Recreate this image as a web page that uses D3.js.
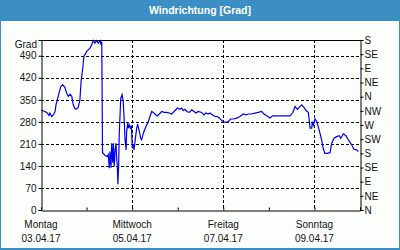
<!DOCTYPE html>
<html>
<head>
<meta charset="utf-8">
<script src="https://cdnjs.cloudflare.com/ajax/libs/d3/7.8.5/d3.min.js"></script>
<style>
  html, body { margin: 0; padding: 0; background: #fff; }
  svg { display: block; }
  text { font-family: "Liberation Sans", Arial, sans-serif; }
</style>
</head>
<body>
<div id="chart"></div>
<script>
// Windrichtung, Stunden seit Montag 03.04.17 00:00
var hours = [0, 2.1, 3.3, 4.2, 4.7, 5.6, 6.5, 7.4, 7.9, 8.6, 9.5, 10.4, 11.4, 12.6, 13.5, 14.4, 15.3, 16.2, 17, 17.9,
  18.8, 19.6, 20.5, 21.1, 22, 22.6, 24.1, 25.8, 26.7, 27.5, 28.4, 29.3, 30.2, 31.1, 31.6, 32, 32.4, 32.8, 33.7, 34.9,
  35.4, 36, 36.3, 36.9, 37.2, 37.8, 38.1, 38.6, 39, 39.5, 39.9, 40.2, 40.5, 40.9, 41.2, 42, 42.7, 43.3, 43.9, 44.2,
  44.8, 45.1, 45.7, 46, 46.5, 47, 47.6, 48.1, 48.6, 49, 49.5, 50.4, 50.9, 51.8, 52.5, 53, 53.9, 55.3, 56.5, 57.4,
  58.3, 59.1, 60, 61.2, 62.3, 63.6, 64.8, 66.2, 67.6, 68.8, 69.7, 70.6, 71.8, 73.2, 74.1, 74.9, 75.8, 76.7, 78.1, 79.4,
  80.6, 81.6, 82.8, 84.6, 85.8, 86.9, 88.1, 89, 90.4, 91.6, 92.8, 93.9, 95.2, 96.4, 97.8, 98.6, 99.9, 101.3, 103.1, 104.8,
  106.5, 108, 109.2, 111, 112.7, 114.4, 116.2, 117.4, 118.9, 120.6, 122, 124.1, 125.9, 127.6, 129.4, 131.1, 132.5, 133.8, 135, 136,
  137.3, 138.5, 139.6, 140.8, 141.7, 142.6, 142.9, 143.4, 144.3, 145.2, 146, 146.9, 147.8, 148.6, 149.5, 150.8, 152.2, 153.1, 154.3, 155.7,
  157.1, 157.9, 159.2, 160.6, 161.8, 163.6, 164.8, 166.2, 167.1];
var grad = [317, 313, 308, 300, 308, 297, 302, 313, 334, 350, 371, 392, 398, 389, 371, 361, 368, 361, 334, 321,
  321, 326, 350, 408, 451, 488, 504, 514, 525, 538, 530, 538, 530, 538, 525, 535, 181, 180, 173, 170,
  176, 133, 186, 134, 212, 150, 212, 138, 190, 212, 159, 143, 82, 143, 239, 355, 366, 345, 276, 228,
  191, 249, 276, 260, 270, 260, 268, 196, 207, 191, 217, 260, 273, 249, 228, 223, 244, 265, 281, 297,
  313, 310, 305, 299, 305, 313, 310, 310, 308, 305, 310, 316, 324, 320, 324, 316, 320, 313, 310, 318,
  313, 308, 313, 310, 302, 308, 305, 308, 302, 297, 297, 292, 284, 279, 279, 281, 289, 289, 292, 297,
  305, 302, 305, 305, 308, 310, 313, 305, 299, 292, 299, 299, 299, 299, 299, 299, 308, 329, 320, 326,
  334, 326, 316, 310, 260, 260, 281, 270, 289, 281, 265, 244, 223, 196, 180, 180, 182, 212, 228, 233,
  236, 228, 242, 236, 223, 207, 193, 191, 186];

var dayNames = ['Montag', 'Mittwoch', 'Freitag', 'Sonntag'];
var dayDates = ['03.04.17', '05.04.17', '07.04.17', '09.04.17'];
var gradTicks = [0, 70, 140, 210, 280, 350, 420, 490];
var compassLabels = ['N', 'NE', 'E', 'SE', 'S', 'SW', 'W', 'NW', 'N', 'NE', 'E', 'SE', 'S'];

(function() {
  var W = 400, H = 250;
  var pLeft = 41, pRight = 360, pTop = 40, pBottom = 210;
  var t0 = new Date(2017, 3, 3), t1 = new Date(2017, 3, 10);
  var parseDay = d3.timeParse('%d.%m.%y');
  var font = '"Liberation Sans", Arial, sans-serif';

  var x = d3.scaleTime().domain([t0, t1]).range([pLeft, pRight]);
  var y = d3.scaleLinear().domain([0, 540]).range([pBottom, pTop]);

  var svg = d3.select('#chart').append('svg')
    .attr('width', W).attr('height', H);

  // rahmen + titelleiste
  svg.append('rect').attr('x', 0).attr('y', 0).attr('width', W).attr('height', H).attr('fill', '#3b8fc5');
  svg.append('rect').attr('x', 1).attr('y', 21).attr('width', W - 2).attr('height', H - 23).attr('fill', '#fcfefc');
  svg.append('text')
    .attr('x', W / 2).attr('y', 14)
    .attr('text-anchor', 'middle')
    .style('font-weight', 'bold').style('font-size', '10.5px')
    .attr('fill', '#fff')
    .text('Windrichtung [Grad]');

  // gitter
  var grid = svg.append('g').attr('stroke', '#000').attr('stroke-dasharray', '3,2').attr('shape-rendering', 'crispEdges');
  grid.selectAll('.hg').data(gradTicks.filter(function(d) { return d > 0; })).enter()
    .append('line')
    .attr('x1', pLeft).attr('x2', pRight)
    .attr('y1', function(d) { return Math.round(y(d)) + 0.5; })
    .attr('y2', function(d) { return Math.round(y(d)) + 0.5; });
  grid.selectAll('.vg').data(dayDates.slice(1)).enter()
    .append('line')
    .attr('y1', pTop).attr('y2', pBottom)
    .attr('x1', function(d) { return Math.round(x(parseDay(d))) + 0.5; })
    .attr('x2', function(d) { return Math.round(x(parseDay(d))) + 0.5; });

  // linie
  var line = d3.line()
    .x(function(d) { return x(new Date(t0.getTime() + d * 3600000)); })
    .y(function(d, i) { return y(grad[i]); });
  svg.append('path')
    .datum(hours)
    .attr('fill', 'none')
    .attr('stroke', '#0000ee')
    .attr('stroke-width', 1.2)
    .attr('d', line);

  // achsen
  var axisLeft = d3.axisLeft(y).tickValues(gradTicks).tickSize(3).tickPadding(2);
  var axisRight = d3.axisRight(y).tickValues(d3.range(0, 541, 45)).tickSize(3).tickPadding(1)
    .tickFormat(function(d, i) { return compassLabels[i]; });
  var axisBottom = d3.axisBottom(x).ticks(d3.timeDay.every(1)).tickSize(-3).tickFormat('');

  var gl = svg.append('g').attr('transform', 'translate(' + (pLeft + 0.5) + ',0)').call(axisLeft);
  var gr = svg.append('g').attr('transform', 'translate(' + (pRight + 0.5) + ',0)').call(axisRight);
  var gb = svg.append('g').attr('transform', 'translate(0,' + (pBottom + 0.5) + ')').call(axisBottom);
  svg.append('line').attr('x1', pLeft).attr('x2', pRight + 1).attr('y1', pTop + 0.5).attr('y2', pTop + 0.5)
    .attr('stroke', '#000');

  [gl, gr, gb].forEach(function(g) {
    g.select('.domain').attr('stroke', '#000');
    g.selectAll('.tick line').attr('stroke', '#000');
    g.selectAll('text').style('font-family', font)
      .style('font-size', '10px').attr('fill', '#111');
  });

  svg.append('text')
    .attr('x', 37).attr('y', 48)
    .attr('text-anchor', 'end')
    .style('font-size', '10px').attr('fill', '#111')
    .text('Grad');

  // tageslabels
  var days = svg.append('g').selectAll('g').data(dayDates).enter()
    .append('g')
    .attr('transform', function(d) { return 'translate(' + x(parseDay(d)) + ',0)'; });
  days.append('text')
    .attr('y', 228).attr('text-anchor', 'middle')
    .style('font-size', '10px').attr('fill', '#111')
    .text(function(d, i) { return dayNames[i]; });
  days.append('text')
    .attr('y', 242).attr('text-anchor', 'middle')
    .style('font-size', '10px').attr('fill', '#111')
    .text(function(d) { return d; });
})();
</script>
</body>
</html>
